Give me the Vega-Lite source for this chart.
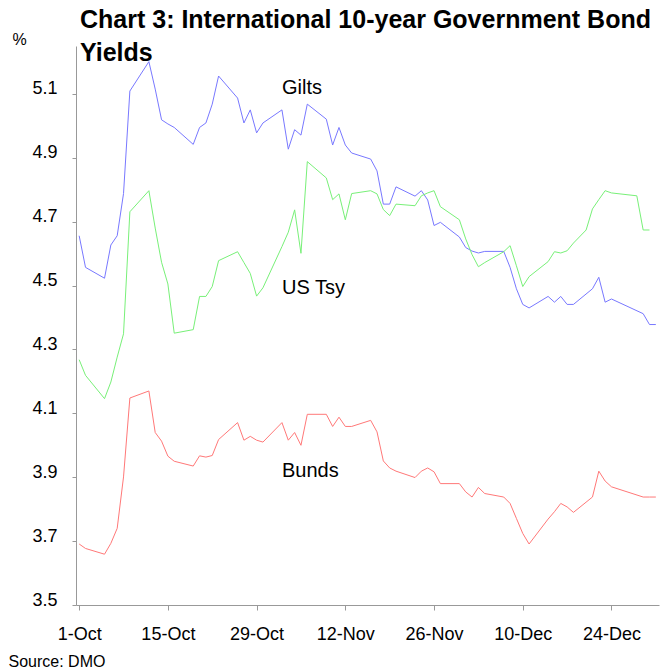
{
  "$schema": "https://vega.github.io/schema/vega-lite/v6.json",
  "width": 583,
  "height": 559,
  "autosize": {"type": "none"},
  "padding": {"left": 76, "top": 46, "right": 5, "bottom": 65},
  "background": "white",
  "config": {"view": {"stroke": null}, "font": "Liberation Sans"},
  "title": {
    "text": ["Chart 3: International 10-year Government Bond", "Yields"],
    "anchor": "start",
    "frame": "group",
    "fontSize": 25,
    "fontWeight": "bold",
    "font": "Liberation Sans",
    "color": "#000000",
    "lineHeight": 33,
    "offset": -39,
    "dx": 4,
    "dy": 21,
    "baseline": "bottom"
  },
  "datasets": {
    "series": [
      {"s": "Gilts", "d": "1998-10-01", "v": 4.656},
      {"s": "Gilts", "d": "1998-10-02", "v": 4.557},
      {"s": "Gilts", "d": "1998-10-05", "v": 4.523},
      {"s": "Gilts", "d": "1998-10-06", "v": 4.627},
      {"s": "Gilts", "d": "1998-10-07", "v": 4.656},
      {"s": "Gilts", "d": "1998-10-08", "v": 4.788},
      {"s": "Gilts", "d": "1998-10-09", "v": 5.109},
      {"s": "Gilts", "d": "1998-10-12", "v": 5.201},
      {"s": "Gilts", "d": "1998-10-13", "v": 5.115},
      {"s": "Gilts", "d": "1998-10-14", "v": 5.019},
      {"s": "Gilts", "d": "1998-10-15", "v": 5.006},
      {"s": "Gilts", "d": "1998-10-16", "v": 4.995},
      {"s": "Gilts", "d": "1998-10-19", "v": 4.942},
      {"s": "Gilts", "d": "1998-10-20", "v": 4.995},
      {"s": "Gilts", "d": "1998-10-21", "v": 5.009},
      {"s": "Gilts", "d": "1998-10-22", "v": 5.068},
      {"s": "Gilts", "d": "1998-10-23", "v": 5.156},
      {"s": "Gilts", "d": "1998-10-26", "v": 5.087},
      {"s": "Gilts", "d": "1998-10-27", "v": 5.009},
      {"s": "Gilts", "d": "1998-10-28", "v": 5.050},
      {"s": "Gilts", "d": "1998-10-29", "v": 4.978},
      {"s": "Gilts", "d": "1998-10-30", "v": 5.009},
      {"s": "Gilts", "d": "1998-11-02", "v": 5.050},
      {"s": "Gilts", "d": "1998-11-03", "v": 4.927},
      {"s": "Gilts", "d": "1998-11-04", "v": 4.988},
      {"s": "Gilts", "d": "1998-11-05", "v": 4.971},
      {"s": "Gilts", "d": "1998-11-06", "v": 5.068},
      {"s": "Gilts", "d": "1998-11-09", "v": 5.021},
      {"s": "Gilts", "d": "1998-11-10", "v": 4.940},
      {"s": "Gilts", "d": "1998-11-11", "v": 4.995},
      {"s": "Gilts", "d": "1998-11-12", "v": 4.940},
      {"s": "Gilts", "d": "1998-11-13", "v": 4.915},
      {"s": "Gilts", "d": "1998-11-16", "v": 4.896},
      {"s": "Gilts", "d": "1998-11-17", "v": 4.859},
      {"s": "Gilts", "d": "1998-11-18", "v": 4.755},
      {"s": "Gilts", "d": "1998-11-19", "v": 4.755},
      {"s": "Gilts", "d": "1998-11-20", "v": 4.809},
      {"s": "Gilts", "d": "1998-11-23", "v": 4.780},
      {"s": "Gilts", "d": "1998-11-24", "v": 4.797},
      {"s": "Gilts", "d": "1998-11-25", "v": 4.768},
      {"s": "Gilts", "d": "1998-11-26", "v": 4.688},
      {"s": "Gilts", "d": "1998-11-27", "v": 4.698},
      {"s": "Gilts", "d": "1998-11-30", "v": 4.652},
      {"s": "Gilts", "d": "1998-12-01", "v": 4.619},
      {"s": "Gilts", "d": "1998-12-02", "v": 4.608},
      {"s": "Gilts", "d": "1998-12-03", "v": 4.602},
      {"s": "Gilts", "d": "1998-12-04", "v": 4.607},
      {"s": "Gilts", "d": "1998-12-07", "v": 4.607},
      {"s": "Gilts", "d": "1998-12-08", "v": 4.557},
      {"s": "Gilts", "d": "1998-12-09", "v": 4.490},
      {"s": "Gilts", "d": "1998-12-10", "v": 4.441},
      {"s": "Gilts", "d": "1998-12-11", "v": 4.430},
      {"s": "Gilts", "d": "1998-12-14", "v": 4.466},
      {"s": "Gilts", "d": "1998-12-15", "v": 4.448},
      {"s": "Gilts", "d": "1998-12-16", "v": 4.466},
      {"s": "Gilts", "d": "1998-12-17", "v": 4.441},
      {"s": "Gilts", "d": "1998-12-18", "v": 4.441},
      {"s": "Gilts", "d": "1998-12-21", "v": 4.490},
      {"s": "Gilts", "d": "1998-12-22", "v": 4.526},
      {"s": "Gilts", "d": "1998-12-23", "v": 4.448},
      {"s": "Gilts", "d": "1998-12-24", "v": 4.458},
      {"s": "Gilts", "d": "1998-12-29", "v": 4.412},
      {"s": "Gilts", "d": "1998-12-30", "v": 4.378},
      {"s": "Gilts", "d": "1998-12-31", "v": 4.378},

      {"s": "US Tsy", "d": "1998-10-01", "v": 4.268},
      {"s": "US Tsy", "d": "1998-10-02", "v": 4.219},
      {"s": "US Tsy", "d": "1998-10-05", "v": 4.146},
      {"s": "US Tsy", "d": "1998-10-06", "v": 4.198},
      {"s": "US Tsy", "d": "1998-10-07", "v": 4.276},
      {"s": "US Tsy", "d": "1998-10-08", "v": 4.349},
      {"s": "US Tsy", "d": "1998-10-09", "v": 4.731},
      {"s": "US Tsy", "d": "1998-10-12", "v": 4.797},
      {"s": "US Tsy", "d": "1998-10-13", "v": 4.680},
      {"s": "US Tsy", "d": "1998-10-14", "v": 4.573},
      {"s": "US Tsy", "d": "1998-10-15", "v": 4.505},
      {"s": "US Tsy", "d": "1998-10-16", "v": 4.351},
      {"s": "US Tsy", "d": "1998-10-19", "v": 4.362},
      {"s": "US Tsy", "d": "1998-10-20", "v": 4.466},
      {"s": "US Tsy", "d": "1998-10-21", "v": 4.466},
      {"s": "US Tsy", "d": "1998-10-22", "v": 4.497},
      {"s": "US Tsy", "d": "1998-10-23", "v": 4.578},
      {"s": "US Tsy", "d": "1998-10-26", "v": 4.606},
      {"s": "US Tsy", "d": "1998-10-27", "v": 4.572},
      {"s": "US Tsy", "d": "1998-10-28", "v": 4.538},
      {"s": "US Tsy", "d": "1998-10-29", "v": 4.467},
      {"s": "US Tsy", "d": "1998-10-30", "v": 4.493},
      {"s": "US Tsy", "d": "1998-11-02", "v": 4.622},
      {"s": "US Tsy", "d": "1998-11-03", "v": 4.667},
      {"s": "US Tsy", "d": "1998-11-04", "v": 4.737},
      {"s": "US Tsy", "d": "1998-11-05", "v": 4.601},
      {"s": "US Tsy", "d": "1998-11-06", "v": 4.888},
      {"s": "US Tsy", "d": "1998-11-09", "v": 4.837},
      {"s": "US Tsy", "d": "1998-11-10", "v": 4.769},
      {"s": "US Tsy", "d": "1998-11-11", "v": 4.787},
      {"s": "US Tsy", "d": "1998-11-12", "v": 4.706},
      {"s": "US Tsy", "d": "1998-11-13", "v": 4.788},
      {"s": "US Tsy", "d": "1998-11-16", "v": 4.797},
      {"s": "US Tsy", "d": "1998-11-17", "v": 4.787},
      {"s": "US Tsy", "d": "1998-11-18", "v": 4.738},
      {"s": "US Tsy", "d": "1998-11-19", "v": 4.719},
      {"s": "US Tsy", "d": "1998-11-20", "v": 4.755},
      {"s": "US Tsy", "d": "1998-11-23", "v": 4.750},
      {"s": "US Tsy", "d": "1998-11-24", "v": 4.781},
      {"s": "US Tsy", "d": "1998-11-25", "v": 4.790},
      {"s": "US Tsy", "d": "1998-11-26", "v": 4.797},
      {"s": "US Tsy", "d": "1998-11-27", "v": 4.747},
      {"s": "US Tsy", "d": "1998-11-30", "v": 4.706},
      {"s": "US Tsy", "d": "1998-12-01", "v": 4.646},
      {"s": "US Tsy", "d": "1998-12-02", "v": 4.597},
      {"s": "US Tsy", "d": "1998-12-03", "v": 4.559},
      {"s": "US Tsy", "d": "1998-12-04", "v": 4.572},
      {"s": "US Tsy", "d": "1998-12-07", "v": 4.606},
      {"s": "US Tsy", "d": "1998-12-08", "v": 4.625},
      {"s": "US Tsy", "d": "1998-12-09", "v": 4.562},
      {"s": "US Tsy", "d": "1998-12-10", "v": 4.497},
      {"s": "US Tsy", "d": "1998-12-11", "v": 4.528},
      {"s": "US Tsy", "d": "1998-12-14", "v": 4.575},
      {"s": "US Tsy", "d": "1998-12-15", "v": 4.606},
      {"s": "US Tsy", "d": "1998-12-16", "v": 4.602},
      {"s": "US Tsy", "d": "1998-12-17", "v": 4.609},
      {"s": "US Tsy", "d": "1998-12-18", "v": 4.633},
      {"s": "US Tsy", "d": "1998-12-20", "v": 4.674},
      {"s": "US Tsy", "d": "1998-12-21", "v": 4.740},
      {"s": "US Tsy", "d": "1998-12-22", "v": 4.769},
      {"s": "US Tsy", "d": "1998-12-23", "v": 4.797},
      {"s": "US Tsy", "d": "1998-12-24", "v": 4.790},
      {"s": "US Tsy", "d": "1998-12-28", "v": 4.781},
      {"s": "US Tsy", "d": "1998-12-29", "v": 4.674},
      {"s": "US Tsy", "d": "1998-12-30", "v": 4.674},

      {"s": "Bunds", "d": "1998-10-01", "v": 3.691},
      {"s": "Bunds", "d": "1998-10-02", "v": 3.677},
      {"s": "Bunds", "d": "1998-10-05", "v": 3.659},
      {"s": "Bunds", "d": "1998-10-06", "v": 3.693},
      {"s": "Bunds", "d": "1998-10-07", "v": 3.740},
      {"s": "Bunds", "d": "1998-10-08", "v": 3.901},
      {"s": "Bunds", "d": "1998-10-09", "v": 4.148},
      {"s": "Bunds", "d": "1998-10-12", "v": 4.170},
      {"s": "Bunds", "d": "1998-10-13", "v": 4.040},
      {"s": "Bunds", "d": "1998-10-14", "v": 4.013},
      {"s": "Bunds", "d": "1998-10-15", "v": 3.966},
      {"s": "Bunds", "d": "1998-10-16", "v": 3.950},
      {"s": "Bunds", "d": "1998-10-19", "v": 3.935},
      {"s": "Bunds", "d": "1998-10-20", "v": 3.967},
      {"s": "Bunds", "d": "1998-10-21", "v": 3.963},
      {"s": "Bunds", "d": "1998-10-22", "v": 3.968},
      {"s": "Bunds", "d": "1998-10-23", "v": 4.018},
      {"s": "Bunds", "d": "1998-10-26", "v": 4.071},
      {"s": "Bunds", "d": "1998-10-27", "v": 4.016},
      {"s": "Bunds", "d": "1998-10-28", "v": 4.028},
      {"s": "Bunds", "d": "1998-10-29", "v": 4.016},
      {"s": "Bunds", "d": "1998-10-30", "v": 4.010},
      {"s": "Bunds", "d": "1998-11-02", "v": 4.071},
      {"s": "Bunds", "d": "1998-11-03", "v": 4.016},
      {"s": "Bunds", "d": "1998-11-04", "v": 4.040},
      {"s": "Bunds", "d": "1998-11-05", "v": 4.000},
      {"s": "Bunds", "d": "1998-11-06", "v": 4.097},
      {"s": "Bunds", "d": "1998-11-09", "v": 4.097},
      {"s": "Bunds", "d": "1998-11-10", "v": 4.059},
      {"s": "Bunds", "d": "1998-11-11", "v": 4.088},
      {"s": "Bunds", "d": "1998-11-12", "v": 4.059},
      {"s": "Bunds", "d": "1998-11-13", "v": 4.059},
      {"s": "Bunds", "d": "1998-11-16", "v": 4.078},
      {"s": "Bunds", "d": "1998-11-17", "v": 4.042},
      {"s": "Bunds", "d": "1998-11-18", "v": 3.951},
      {"s": "Bunds", "d": "1998-11-19", "v": 3.929},
      {"s": "Bunds", "d": "1998-11-20", "v": 3.919},
      {"s": "Bunds", "d": "1998-11-23", "v": 3.899},
      {"s": "Bunds", "d": "1998-11-24", "v": 3.919},
      {"s": "Bunds", "d": "1998-11-25", "v": 3.929},
      {"s": "Bunds", "d": "1998-11-26", "v": 3.917},
      {"s": "Bunds", "d": "1998-11-27", "v": 3.880},
      {"s": "Bunds", "d": "1998-11-30", "v": 3.880},
      {"s": "Bunds", "d": "1998-12-01", "v": 3.854},
      {"s": "Bunds", "d": "1998-12-02", "v": 3.838},
      {"s": "Bunds", "d": "1998-12-03", "v": 3.868},
      {"s": "Bunds", "d": "1998-12-04", "v": 3.849},
      {"s": "Bunds", "d": "1998-12-07", "v": 3.838},
      {"s": "Bunds", "d": "1998-12-08", "v": 3.818},
      {"s": "Bunds", "d": "1998-12-09", "v": 3.771},
      {"s": "Bunds", "d": "1998-12-10", "v": 3.724},
      {"s": "Bunds", "d": "1998-12-11", "v": 3.691},
      {"s": "Bunds", "d": "1998-12-14", "v": 3.769},
      {"s": "Bunds", "d": "1998-12-15", "v": 3.792},
      {"s": "Bunds", "d": "1998-12-16", "v": 3.818},
      {"s": "Bunds", "d": "1998-12-17", "v": 3.807},
      {"s": "Bunds", "d": "1998-12-18", "v": 3.790},
      {"s": "Bunds", "d": "1998-12-21", "v": 3.838},
      {"s": "Bunds", "d": "1998-12-22", "v": 3.919},
      {"s": "Bunds", "d": "1998-12-23", "v": 3.888},
      {"s": "Bunds", "d": "1998-12-24", "v": 3.870},
      {"s": "Bunds", "d": "1998-12-29", "v": 3.838},
      {"s": "Bunds", "d": "1998-12-30", "v": 3.838},
      {"s": "Bunds", "d": "1998-12-31", "v": 3.838}
    ],
    "labels": [
      {"name": "Gilts", "d": "1998-11-02", "v": 5.1},
      {"name": "US Tsy", "d": "1998-11-02", "v": 4.474},
      {"name": "Bunds", "d": "1998-11-02", "v": 3.901}
    ]
  },
  "encoding": {
    "x": {
      "field": "d",
      "type": "temporal",
      "scale": {
        "type": "utc",
        "domain": [
          {"year": 1998, "month": 9, "date": 30, "hours": 12, "utc": true},
          {"year": 1998, "month": 12, "date": 31, "hours": 12, "utc": true}
        ]
      },
      "axis": {
        "values": [
          {"year": 1998, "month": 10, "date": 1, "utc": true},
          {"year": 1998, "month": 10, "date": 15, "utc": true},
          {"year": 1998, "month": 10, "date": 29, "utc": true},
          {"year": 1998, "month": 11, "date": 12, "utc": true},
          {"year": 1998, "month": 11, "date": 26, "utc": true},
          {"year": 1998, "month": 12, "date": 10, "utc": true},
          {"year": 1998, "month": 12, "date": 24, "utc": true}
        ],
        "labelExpr": "utcFormat(datum.value, '%-d-%b')",
        "grid": false,
        "domainColor": "#999999",
        "tickColor": "#999999",
        "tickSize": 5,
        "labelFontSize": 18,
        "labelColor": "#000000",
        "labelPadding": 15,
        "labelFont": "Liberation Sans",
        "title": "Source: DMO",
        "titleFont": "Liberation Sans",
        "titleFontSize": 16,
        "titleFontWeight": "normal",
        "titleColor": "#000000",
        "titleAlign": "left",
        "titleBaseline": "alphabetic",
        "titleAnchor": "start",
        "titleX": -68,
        "titleY": 61
      }
    },
    "y": {
      "field": "v",
      "type": "quantitative",
      "scale": {"domain": [3.5, 5.25], "nice": false, "zero": false},
      "axis": {
        "values": [3.5, 3.7, 3.9, 4.1, 4.3, 4.5, 4.7, 4.9, 5.1],
        "format": ".1f",
        "grid": false,
        "domainColor": "#999999",
        "tickColor": "#999999",
        "tickSize": 4,
        "labelFontSize": 18,
        "labelColor": "#000000",
        "labelPadding": 15,
        "labelBaseline": "alphabetic",
        "labelFont": "Liberation Sans",
        "title": "%",
        "titleFont": "Liberation Sans",
        "titleFontSize": 16,
        "titleFontWeight": "normal",
        "titleColor": "#000000",
        "titleAngle": 0,
        "titleAlign": "left",
        "titleBaseline": "alphabetic",
        "titleX": -64,
        "titleY": -2
      }
    }
  },
  "layer": [
    {
      "data": {"name": "series"},
      "mark": {"type": "line", "strokeWidth": 1},
      "encoding": {
        "color": {
          "field": "s",
          "type": "nominal",
          "scale": {"domain": ["Gilts", "US Tsy", "Bunds"], "range": ["#7878ff", "#78f078", "#ff7878"]},
          "legend": null
        }
      }
    },
    {
      "data": {"name": "labels"},
      "mark": {"type": "text", "align": "left", "baseline": "alphabetic", "fontSize": 20, "font": "Liberation Sans", "color": "#000000"},
      "encoding": {
        "text": {"field": "name", "type": "nominal"}
      }
    }
  ]
}
